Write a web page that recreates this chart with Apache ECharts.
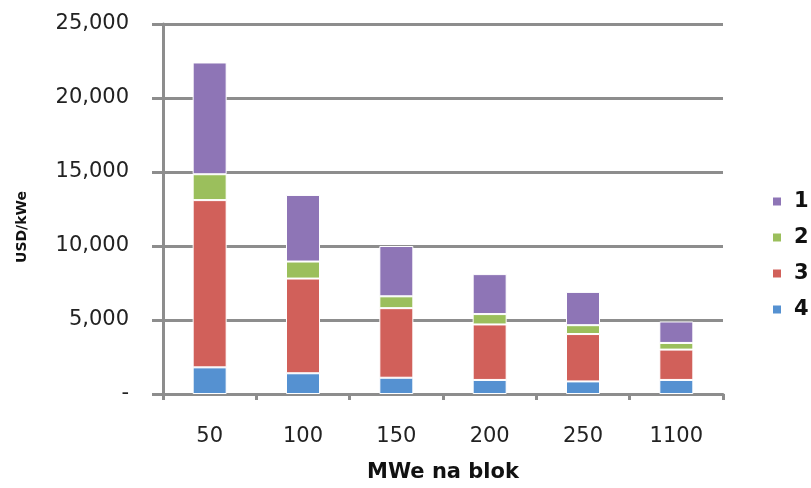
<!DOCTYPE html>
<html>
<head>
<meta charset="utf-8">
<script src="https://cdn.jsdelivr.net/npm/echarts@6/dist/echarts.min.js"></script>
<style>
  html, body { margin: 0; padding: 0; background: #ffffff; }
  #chart { width: 811px; height: 488px; }
</style>
</head>
<body>
<div id="chart"></div>
<script>
// Unit capital cost by unit size, split into four cost components (stacked)
var categories = ['50', '100', '150', '200', '250', '1100'];
var comp4 = [1800, 1400, 1100, 950, 850, 950];
var comp3 = [11300, 6400, 4700, 3750, 3200, 2050];
var comp2 = [1750, 1150, 800, 700, 600, 450];
var comp1 = [7550, 4500, 3400, 2700, 2250, 1450];
var yTicks = { min: 0, max: 25000, step: 5000 };

var FONT = '"DejaVu Sans", Verdana, sans-serif';
var AXIS_GREY = '#8d8d8d';

function seg(name, data, color) {
  return {
    name: name,
    type: 'bar',
    stack: 'cost',
    data: data,
    barWidth: 34,
    itemStyle: { color: color, borderColor: '#ffffff', borderWidth: 1 }
  };
}

var chart = echarts.init(document.getElementById('chart'), null, { renderer: 'canvas' });
chart.setOption({
  animation: false,
  backgroundColor: '#ffffff',
  textStyle: { fontFamily: FONT },
  grid: { left: 163, right: 88, top: 24, bottom: 87 },
  legend: {
    orient: 'vertical',
    left: 766,
    top: 186,
    itemWidth: 10,
    itemHeight: 10,
    itemGap: 15,
    icon: 'rect',
    data: ['1', '2', '3', '4'],
    textStyle: { fontFamily: FONT, fontSize: 21, fontWeight: 'bold', color: '#111111', padding: [0, 0, 0, 7] }
  },
  xAxis: {
    type: 'category',
    data: categories,
    name: 'MWe na blok',
    nameLocation: 'middle',
    nameGap: 68,
    nameTextStyle: { fontFamily: FONT, fontSize: 21, fontWeight: 'bold', color: '#111111' },
    axisLine: { lineStyle: { color: AXIS_GREY, width: 3 } },
    axisTick: { show: true, alignWithLabel: false, length: 6, lineStyle: { color: AXIS_GREY, width: 3 } },
    axisLabel: { fontFamily: FONT, fontSize: 21, color: '#222222', margin: 32 },
    splitLine: { show: false }
  },
  yAxis: {
    type: 'value',
    min: yTicks.min,
    max: yTicks.max,
    interval: yTicks.step,
    name: 'USD/kWe',
    nameLocation: 'middle',
    nameGap: 134,
    nameRotate: 90,
    nameTextStyle: { fontFamily: FONT, fontSize: 14, fontWeight: 'bold', color: '#111111', padding: [0, 36, 0, 0] },
    axisLine: { show: true, lineStyle: { color: AXIS_GREY, width: 3 } },
    axisTick: { show: true, inside: false, length: 11, lineStyle: { color: AXIS_GREY, width: 3 } },
    axisLabel: {
      fontFamily: FONT, fontSize: 21, color: '#222222', margin: 34,
      formatter: function (v) { return v === 0 ? '-' : v.toLocaleString('en-US'); }
    },
    splitLine: { show: true, lineStyle: { color: AXIS_GREY, width: 3 } }
  },
  series: [
    seg('4', comp4, '#5591D1'),
    seg('3', comp3, '#D1605A'),
    seg('2', comp2, '#9BBF5C'),
    seg('1', comp1, '#8E75B6')
  ]
});
</script>
</body>
</html>
